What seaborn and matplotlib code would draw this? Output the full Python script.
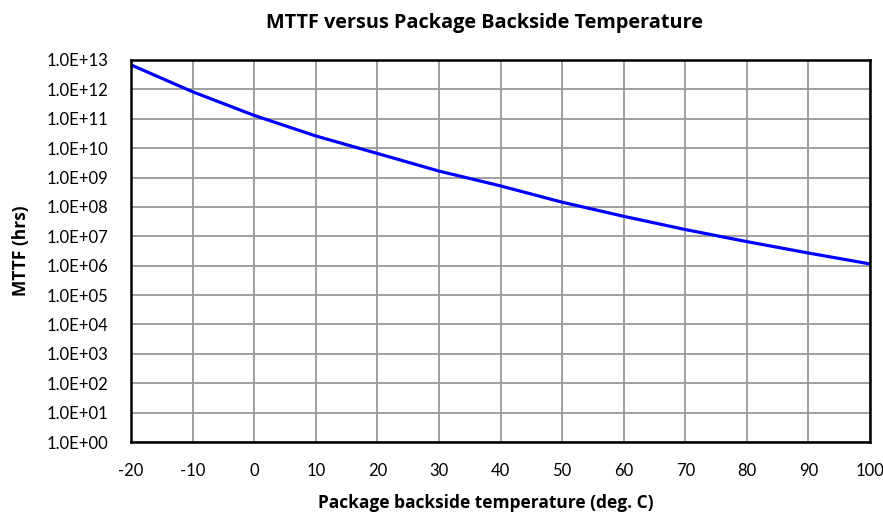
import math
import matplotlib
matplotlib.use("Agg")
import matplotlib.pyplot as plt
import matplotlib.ticker as mticker
import seaborn as sns
import pandas as pd

temperature_c = [-20, -10, 0, 10, 20, 30, 40, 50, 60, 70, 80, 90, 100]
mttf_hrs = [6.8e12, 8.3e11, 1.3e11, 2.6e10, 6.6e9, 1.66e9, 5.2e8,
            1.45e8, 4.8e7, 1.7e7, 6.6e6, 2.7e6, 1.15e6]
x_ticks = list(range(-20, 101, 10))
y_ticks = [10.0 ** k for k in range(0, 14)]

sns.set_theme(style="white")
plt.rcParams['font.family'] = ['Lato', 'DejaVu Sans']
plt.rcParams['text.color'] = 'black'
plt.rcParams['axes.labelcolor'] = 'black'

df = pd.DataFrame({"temp": temperature_c, "mttf": mttf_hrs})

fig = plt.figure(figsize=(8.83, 5.15), dpi=100)
ax = fig.add_axes([0.1484, 0.1417, 0.8369, 0.7418])
sns.lineplot(data=df, x="temp", y="mttf", ax=ax, color="#0000FF", linewidth=2.3)

ax.set_yscale("log")
ax.set_xlim(-20, 100)
ax.set_ylim(1, 1e13)
ax.set_xticks(x_ticks)
ax.set_yticks(y_ticks)
ax.yaxis.set_minor_locator(mticker.NullLocator())
ax.yaxis.set_major_formatter(mticker.FuncFormatter(
    lambda v, p: "1.0E+%02d" % round(math.log10(v))))
ax.xaxis.set_major_formatter(mticker.FuncFormatter(lambda v, p: "%d" % v))

ax.grid(True, which="major", color="#999999", linewidth=1.3)
ax.set_axisbelow(True)
for s in ax.spines.values():
    s.set_color("black")
    s.set_linewidth(1.8)
    s.set_visible(True)

ax.tick_params(axis="both", which="major", labelsize=12, colors="black",
               labelcolor="black", length=0)
ax.tick_params(axis="x", pad=15)
ax.tick_params(axis="y", pad=16)

bold = dict(family=['Open Sans', 'DejaVu Sans'], fontweight="bold", color="black")
ax.set_xlabel("Package backside temperature (deg. C)", fontsize=12.5,
              va="baseline", **bold)
ax.xaxis.set_label_coords(0.48, -0.173)
ax.set_ylabel("MTTF (hrs)", fontsize=12.5, labelpad=12, **bold)
ax.set_title("MTTF versus Package Backside Temperature", fontsize=14.3,
             pad=23, x=0.478, **bold)

fig.savefig("out.png", dpi=100)
